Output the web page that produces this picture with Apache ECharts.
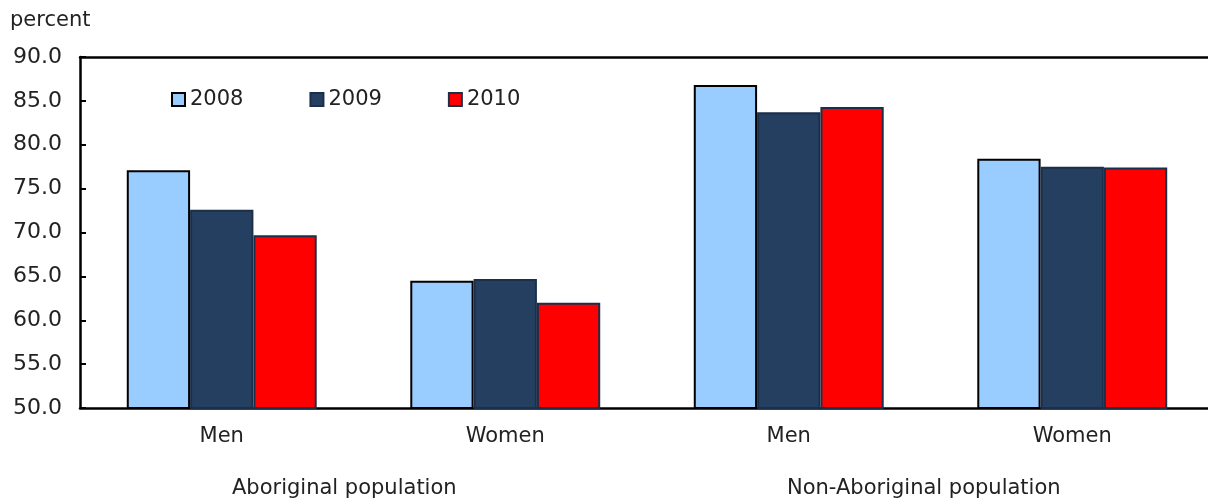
<!DOCTYPE html>
<html><head><meta charset="utf-8">
<script src="https://cdn.jsdelivr.net/npm/echarts@6/dist/echarts.min.js"></script>
<style>html,body{margin:0;padding:0;background:#fff}#c{width:1208px;height:502px}</style>
</head><body><div id="c"></div>
<script>
const categories = ["Men", "Women", "Men", "Women"];
const groups = ["Aboriginal population", "Non-Aboriginal population"];
const years = ["2008", "2009", "2010"];
const v2008 = [77.1, 64.5, 86.8, 78.4];
const v2009 = [72.6, 64.7, 83.7, 77.5];
const v2010 = [69.7, 62.0, 84.3, 77.4];
const yTicks = [50, 90, 5];

const F = "'DejaVu Sans', Verdana, sans-serif";
const chart = echarts.init(document.getElementById('c'), null, {renderer: 'canvas'});
const colors = ["#99CCFF", "#243F60", "#FF0000"];
const borders = ["#000000", "#1B2F4A", "#1B2F4A"];
const vals = [v2008, v2009, v2010];
chart.setOption({
  animation: false,
  textStyle: {fontFamily: F},
  title: {text: "percent", left: 5, top: 5, textStyle: {fontFamily: F, fontSize: 21, fontWeight: 'normal', color: '#222'}},
  legend: {
    left: 166, top: 84, itemWidth: 13, itemHeight: 13, itemGap: 66, icon: 'rect',
    textStyle: {fontFamily: F, fontSize: 21, color: '#222', padding: [0, 0, 0, 0]},
    data: years
  },
  grid: {left: 80, width: 1134, top: 57, bottom: 94, containLabel: false, outerBoundsMode: 'none'},
  xAxis: [{
    type: 'category', data: categories, position: 'bottom',
    axisLine: {lineStyle: {color: '#000', width: 2.5}},
    axisTick: {show: false},
    axisLabel: {fontFamily: F, fontSize: 21, color: '#222', margin: 18}
  }, {
    type: 'category', data: categories, position: 'top',
    axisLine: {lineStyle: {color: '#000', width: 2.5}},
    axisTick: {show: false}, axisLabel: {show: false}
  }],
  yAxis: {
    type: 'value', min: yTicks[0], max: yTicks[1], interval: yTicks[2],
    axisLine: {show: true, lineStyle: {color: '#000', width: 2.5}},
    axisTick: {show: true, inside: true, length: 6, lineStyle: {color: '#000', width: 2}},
    splitLine: {show: false},
    axisLabel: {fontFamily: F, fontSize: 22, color: '#222', margin: 18, formatter: v => v.toFixed(1)}
  },
  graphic: [
    {type: 'text', left: 232, top: 478, style: {text: groups[0], font: "21px " + F, fill: '#222'}},
    {type: 'text', left: 787, top: 478, style: {text: groups[1], font: "21px " + F, fill: '#222'}}
  ],
  series: years.map((y, i) => ({
    name: y, type: 'bar', data: vals[i], barGap: '0%', barCategoryGap: '33%',
    itemStyle: {color: colors[i], borderColor: borders[i], borderWidth: 2}
  }))
});
</script></body></html>
